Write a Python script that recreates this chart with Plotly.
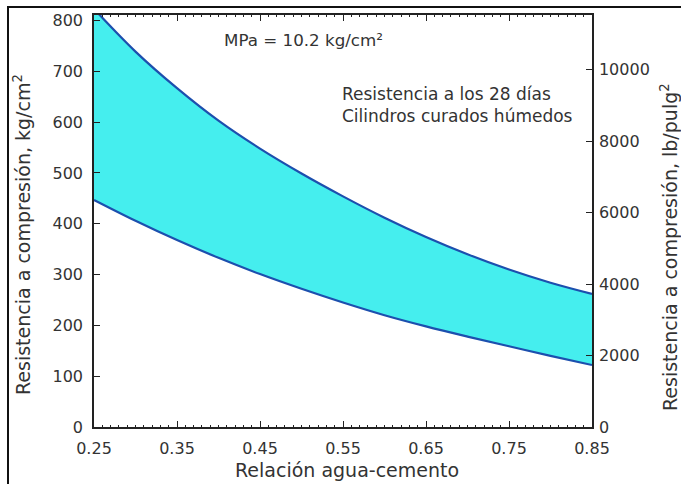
import plotly.graph_objects as go

# Data
wc_ratio = [0.25, 0.30, 0.35, 0.40, 0.45, 0.50, 0.55, 0.60, 0.65, 0.70, 0.75, 0.80, 0.85]
upper_kg = [823, 739, 667, 603, 548, 499, 454, 412, 374, 340, 310, 284, 262]
lower_kg = [447, 406, 368, 333, 301, 272, 245, 220, 198, 178, 159, 140, 122]
x_ticks = [0.25, 0.35, 0.45, 0.55, 0.65, 0.75, 0.85]
left_ticks = [0, 100, 200, 300, 400, 500, 600, 700, 800]
right_ticks = [0, 2000, 4000, 6000, 8000, 10000]
KG_TO_PSI = 14.223
Y_MAX = 811

FONT = "DejaVu Sans, Verdana, sans-serif"
TXT = "#333333"
LINE = "#1c4fae"
FILL = "#45eeee"

W, H = 681, 484
ML, MR, MT, MB = 94, 89, 15, 57
PW = W - ML - MR
PH = H - MT - MB


def px(x):
    return (x - ML) / PW


def py(y):
    return (H - MB - y) / PH


fig = go.Figure()
fig.add_trace(go.Scatter(x=wc_ratio, y=lower_kg, mode="lines",
                         line=dict(color=LINE, width=2.2, shape="spline"),
                         showlegend=False, hoverinfo="skip"))
fig.add_trace(go.Scatter(x=wc_ratio, y=upper_kg, mode="lines",
                         line=dict(color=LINE, width=2.2, shape="spline"),
                         fill="tonexty", fillcolor=FILL,
                         showlegend=False, hoverinfo="skip"))
# invisible trace for right axis
fig.add_trace(go.Scatter(x=[0.25], y=[0], yaxis="y2", mode="markers",
                         marker=dict(opacity=0), showlegend=False, hoverinfo="skip"))

axis_common = dict(showgrid=False, zeroline=False, showline=True, linecolor="#222222",
                   linewidth=1.5, ticks="inside", ticklen=6, tickcolor="#222222",
                   automargin=False,
                   tickfont=dict(family=FONT, size=16, color=TXT))
title_font = dict(family=FONT, size=19, color=TXT)

fig.update_layout(
    width=W, height=H,
    margin=dict(l=ML, r=MR, t=MT, b=MB),
    paper_bgcolor="white", plot_bgcolor="white",
    font=dict(family=FONT, color=TXT),
    xaxis=dict(range=[0.25, 0.85], tickvals=x_ticks,
               ticktext=[f"{v:.2f}" for v in x_ticks],
               mirror="ticks", ticklabelstandoff=6,
               minor=dict(ticks="inside", ticklen=2, dtick=0.01, tickcolor="#222222"),
               **axis_common),
    yaxis=dict(range=[0, Y_MAX], tickvals=left_ticks, mirror=True, ticklabelstandoff=6,
               **axis_common),
    yaxis2=dict(range=[0, Y_MAX * KG_TO_PSI], tickvals=right_ticks,
                ticktext=[str(v) for v in right_ticks],
                overlaying="y", side="right", ticklabelstandoff=2,
                **axis_common),
)

# axis titles
fig.add_annotation(xref="paper", yref="paper", x=px(347), y=py(470),
                   xanchor="center", yanchor="middle", showarrow=False,
                   text="Relación agua-cemento", font=title_font)
fig.add_annotation(xref="paper", yref="paper", x=px(22), y=py(235),
                   xanchor="center", yanchor="middle", showarrow=False, textangle=-90,
                   text="Resistencia a compresión, kg/cm<sup>2</sup>", font=title_font)
fig.add_annotation(xref="paper", yref="paper", x=px(669), y=py(247),
                   xanchor="center", yanchor="middle", showarrow=False, textangle=-90,
                   text="Resistencia a compresión, lb/pulg<sup>2</sup>", font=title_font)

# notes
fig.add_annotation(xref="paper", yref="paper", x=px(222), y=py(40),
                   xanchor="left", yanchor="middle",
                   text="MPa = 10.2 kg/cm²", showarrow=False,
                   font=dict(family=FONT, size=16.7, color=TXT))
fig.add_annotation(xref="paper", yref="paper", x=px(340), y=py(105.5),
                   xanchor="left", yanchor="middle",
                   text="Resistencia a los 28 días<br>Cilindros curados húmedos", showarrow=False,
                   align="left", font=dict(family=FONT, size=17, color=TXT))

# outer border of the figure
fig.add_shape(type="rect", xref="paper", yref="paper",
              x0=px(8), x1=px(700), y0=py(500), y1=py(7),
              line=dict(color="#111111", width=2), layer="above")

fig.write_html("out.html", config={"displayModeBar": False},
               post_script="document.body.style.margin='0';")
